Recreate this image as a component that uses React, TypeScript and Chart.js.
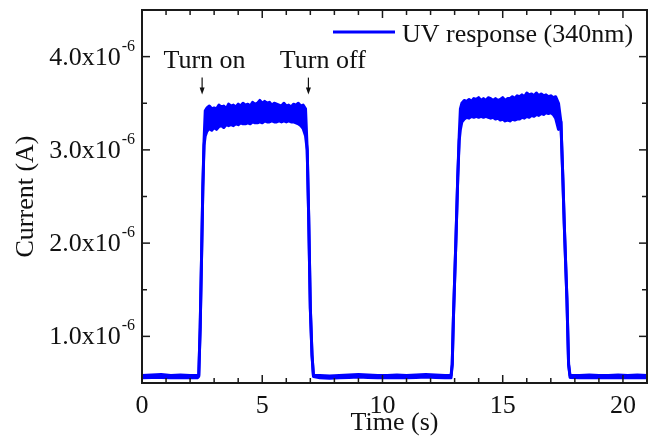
import React, { useEffect, useRef } from 'react';
import { Chart, registerables } from 'chart.js';

Chart.register(...registerables);

// ---------- data (current in µA, time in s) ----------
const timeS = [
  0, 0.4, 0.8, 1.2, 1.6, 2.0, 2.3,
  2.36, 2.42, 2.48, 2.53, 2.58, 2.63,
  2.7, 2.8, 2.9, 3.0, 3.1, 3.2, 3.3, 3.4, 3.5, 3.6, 3.7, 3.8, 3.9, 4.0, 4.1, 4.2, 4.3, 4.4, 4.5, 4.6, 4.7, 4.8, 4.9,
  5.0, 5.1, 5.2, 5.3, 5.4, 5.5, 5.6, 5.7, 5.8, 5.9, 6.0, 6.1, 6.2, 6.3, 6.4, 6.5, 6.6, 6.7,
  6.8, 6.87, 6.93, 7.0, 7.07, 7.13,
  7.4, 7.8, 8.2, 8.6, 9.0, 9.4, 9.8, 10.2, 10.6, 11.0, 11.4, 11.8, 12.2, 12.6, 12.85,
  12.9, 12.95, 13.05, 13.13, 13.19, 13.24,
  13.3, 13.4, 13.5, 13.6, 13.7, 13.8, 13.9, 14.0, 14.1, 14.2, 14.3, 14.4, 14.5, 14.6, 14.7, 14.8, 14.9,
  15.0, 15.1, 15.2, 15.3, 15.4, 15.5, 15.6, 15.7, 15.8, 15.9, 16.0, 16.1, 16.2, 16.3, 16.4, 16.5, 16.6, 16.7, 16.8, 16.9,
  17.0, 17.1, 17.2,
  17.32, 17.42, 17.5, 17.56, 17.67, 17.74, 17.8,
  18.2, 18.6, 19.0, 19.4, 19.8, 20.2, 20.6, 21,
];

const upperUA = [
  0.58, 0.585, 0.59, 0.58, 0.585, 0.58, 0.58,
  0.58, 1.1, 1.9, 2.6, 3.1, 3.42,
  3.45, 3.47, 3.44, 3.45, 3.44, 3.48, 3.46, 3.47, 3.44, 3.49, 3.47, 3.48, 3.46, 3.49, 3.47, 3.5, 3.48, 3.49, 3.47, 3.51, 3.49, 3.5, 3.53,
  3.5, 3.52, 3.5, 3.51, 3.48, 3.5, 3.49, 3.48, 3.47, 3.5, 3.47, 3.48, 3.46, 3.49, 3.48, 3.5, 3.47, 3.48,
  3.44, 3.0, 2.3, 1.3, 0.8, 0.58,
  0.58, 0.575, 0.58, 0.585, 0.59, 0.585, 0.58, 0.58, 0.585, 0.58, 0.585, 0.59, 0.585, 0.58, 0.58,
  0.7, 1.2, 2.0, 2.7, 3.15, 3.44,
  3.5, 3.53, 3.52, 3.54, 3.52, 3.55, 3.54, 3.56, 3.53, 3.55, 3.53, 3.56, 3.55, 3.53, 3.55, 3.53, 3.54,
  3.56, 3.53, 3.55, 3.55, 3.57, 3.55, 3.58, 3.57, 3.59, 3.57, 3.61, 3.59, 3.6, 3.58, 3.61, 3.58, 3.6, 3.58, 3.59, 3.57,
  3.58, 3.56, 3.57,
  3.5, 3.3, 2.7, 2.2, 1.4, 0.7, 0.58,
  0.58, 0.585, 0.58, 0.58, 0.585, 0.58, 0.585, 0.58,
];

const lowerUA = [
  0.555, 0.56, 0.56, 0.555, 0.555, 0.56, 0.555,
  0.57, 1.1, 1.9, 2.6, 3.05, 3.15,
  3.2, 3.23, 3.21, 3.24, 3.22, 3.25, 3.26, 3.24, 3.27, 3.26, 3.27, 3.26, 3.28, 3.27, 3.29, 3.28, 3.28, 3.29, 3.28, 3.3, 3.29, 3.29, 3.3,
  3.29, 3.31, 3.3, 3.3, 3.31, 3.3, 3.3, 3.31, 3.3, 3.31, 3.3, 3.31, 3.3, 3.3, 3.29, 3.28, 3.26, 3.23,
  3.15, 3.0, 2.3, 1.3, 0.8, 0.57,
  0.555, 0.55, 0.555, 0.56, 0.565, 0.56, 0.555, 0.555, 0.56, 0.555, 0.56, 0.565, 0.56, 0.555, 0.555,
  0.7, 1.2, 2.0, 2.7, 3.1, 3.22,
  3.3, 3.33, 3.35, 3.34, 3.36, 3.35, 3.36, 3.35, 3.36, 3.35, 3.36, 3.35, 3.34, 3.35, 3.33, 3.34, 3.32,
  3.33, 3.31, 3.32, 3.31, 3.33, 3.32, 3.33, 3.33, 3.35, 3.34, 3.36, 3.35, 3.37, 3.36, 3.38, 3.37, 3.39, 3.38, 3.4, 3.39,
  3.4, 3.38, 3.34,
  3.22, 3.3, 2.7, 2.2, 1.4, 0.7, 0.56,
  0.555, 0.56, 0.555, 0.555, 0.56, 0.555, 0.56, 0.555,
];

const seriesLabel = 'UV response (340nm)';
const xAxisTitle = 'Time (s)';
const yAxisTitle = 'Current (A)';

const xMajorTicks = [0, 5, 10, 15, 20];
const xMinorTicks = [1, 2, 3, 4, 6, 7, 8, 9, 11, 12, 13, 14, 16, 17, 18, 19];
const yMajorTicksUA = [1, 2, 3, 4];
const yMinorTicksUA = [1.5, 2.5, 3.5];
const yTickLabels = ['1.0x10', '2.0x10', '3.0x10', '4.0x10'];
const yTickExponent = '-6';

const annotations = [
  { text: 'Turn on', textX: 2.6, arrowX: 2.5 },
  { text: 'Turn off', textX: 7.52, arrowX: 6.92 },
];
const annotationTextUA = 3.882;
const annotationArrowTopUA = 3.775;
const annotationArrowTipUA = 3.593;

// ---------- styles ----------
const FONT = "'Liberation Serif', 'Times New Roman', serif";
const BLUE = '#0000ff';
const INK = '#111111';

const decorPlugin = {
  id: 'decor',
  afterDraw(chart: any) {
    const { ctx, chartArea: a, scales } = chart;
    const xs = scales.x;
    const ys = scales.y;
    ctx.save();
    ctx.strokeStyle = '#1a1a1a';
    ctx.lineWidth = 2;
    ctx.strokeRect(a.left, a.top, a.right - a.left, a.bottom - a.top);
    ctx.lineWidth = 1.5;
    const seg = (x1: number, y1: number, x2: number, y2: number) => {
      ctx.beginPath();
      ctx.moveTo(x1, y1);
      ctx.lineTo(x2, y2);
      ctx.stroke();
    };
    const xt = (v: number, len: number) => {
      const px = xs.getPixelForValue(v);
      seg(px, a.bottom, px, a.bottom - len);
      seg(px, a.top, px, a.top + len);
    };
    const yt = (v: number, len: number) => {
      const py = ys.getPixelForValue(v * 1e-6);
      seg(a.left, py, a.left + len, py);
      seg(a.right, py, a.right - len, py);
    };
    xMajorTicks.forEach((v) => xt(v, 8));
    xMinorTicks.forEach((v) => xt(v, 5));
    yMajorTicksUA.forEach((v) => yt(v, 8));
    yMinorTicksUA.forEach((v) => yt(v, 5));

    // y tick labels with superscript exponent
    ctx.fillStyle = INK;
    ctx.textBaseline = 'alphabetic';
    ctx.textAlign = 'right';
    yMajorTicksUA.forEach((v, i) => {
      const py = ys.getPixelForValue(v * 1e-6);
      ctx.font = `16px ${FONT}`;
      const supW = ctx.measureText(yTickExponent).width;
      const rightX = a.left - 7;
      ctx.fillText(yTickExponent, rightX, py - 6);
      ctx.font = `26px ${FONT}`;
      ctx.fillText(yTickLabels[i], rightX - supW - 1, py + 8);
    });

    // legend (inside plot, top right)
    const ds = chart.data.datasets[0];
    ctx.strokeStyle = ds.borderColor;
    ctx.lineWidth = 3;
    seg(a.left + 191, a.top + 22, a.left + 253, a.top + 22);
    ctx.textAlign = 'left';
    ctx.font = `26px ${FONT}`;
    ctx.fillText(ds.label, a.left + 260, a.top + 32);

    // annotations
    ctx.strokeStyle = INK;
    ctx.fillStyle = INK;
    annotations.forEach((an) => {
      ctx.textAlign = 'center';
      ctx.font = `26px ${FONT}`;
      ctx.fillText(an.text, xs.getPixelForValue(an.textX), ys.getPixelForValue(annotationTextUA * 1e-6));
      const ax = xs.getPixelForValue(an.arrowX);
      const y1 = ys.getPixelForValue(annotationArrowTopUA * 1e-6);
      const y2 = ys.getPixelForValue(annotationArrowTipUA * 1e-6);
      ctx.lineWidth = 1.2;
      seg(ax, y1, ax, y2 - 5);
      ctx.beginPath();
      ctx.moveTo(ax - 2.5, y2 - 7);
      ctx.lineTo(ax + 2.5, y2 - 7);
      ctx.lineTo(ax, y2);
      ctx.closePath();
      ctx.fill();
    });
    ctx.restore();
  },
};

export default function App() {
  const canvasRef = useRef<HTMLCanvasElement | null>(null);

  useEffect(() => {
    if (!canvasRef.current) return;
    const upper = timeS.map((t, i) => ({ x: t, y: upperUA[i] * 1e-6 }));
    const lower = timeS.map((t, i) => ({ x: t, y: lowerUA[i] * 1e-6 }));
    const chart = new Chart(canvasRef.current, {
      type: 'line',
      data: {
        datasets: [
          {
            label: seriesLabel,
            data: upper,
            borderColor: BLUE,
            backgroundColor: BLUE,
            borderWidth: 3,
            pointRadius: 0,
            tension: 0,
            fill: { target: '+1', above: BLUE, below: BLUE },
            borderJoinStyle: 'round',
          },
          {
            label: seriesLabel + ' (lower)',
            data: lower,
            borderColor: BLUE,
            backgroundColor: BLUE,
            borderWidth: 3,
            pointRadius: 0,
            tension: 0,
            fill: false,
            borderJoinStyle: 'round',
          },
        ],
      },
      options: {
        animation: false,
        responsive: false,
        events: [],
        layout: { padding: { top: 10, right: 3, left: 0, bottom: 0 } },
        plugins: { legend: { display: false }, tooltip: { enabled: false } },
        scales: {
          x: {
            type: 'linear',
            min: 0,
            max: 21,
            grid: { display: false, drawTicks: false },
            border: { display: false },
            afterBuildTicks: (s: any) => {
              s.ticks = xMajorTicks.map((v) => ({ value: v }));
            },
            afterFit: (s: any) => {
              s.height = 56;
            },
            ticks: { color: INK, padding: 8, font: { family: FONT, size: 26 }, maxRotation: 0 },
            title: {
              display: true,
              text: xAxisTitle,
              color: INK,
              padding: 0,
              font: { family: FONT, size: 26 },
            },
          },
          y: {
            type: 'linear',
            min: 0.5e-6,
            max: 4.5e-6,
            grid: { display: false, drawTicks: false },
            border: { display: false },
            ticks: { display: false },
            afterFit: (s: any) => {
              s.width = 142;
            },
            title: {
              display: true,
              text: yAxisTitle,
              color: INK,
              padding: 11,
              font: { family: FONT, size: 26 },
            },
          },
        },
      },
      plugins: [decorPlugin],
    });
    return () => chart.destroy();
  }, []);

  return (
    <div style={{ position: 'fixed', left: 0, top: 0, width: 650, height: 439, background: '#fff' }}>
      <canvas ref={canvasRef} width={650} height={439} style={{ display: 'block' }} />
    </div>
  );
}
